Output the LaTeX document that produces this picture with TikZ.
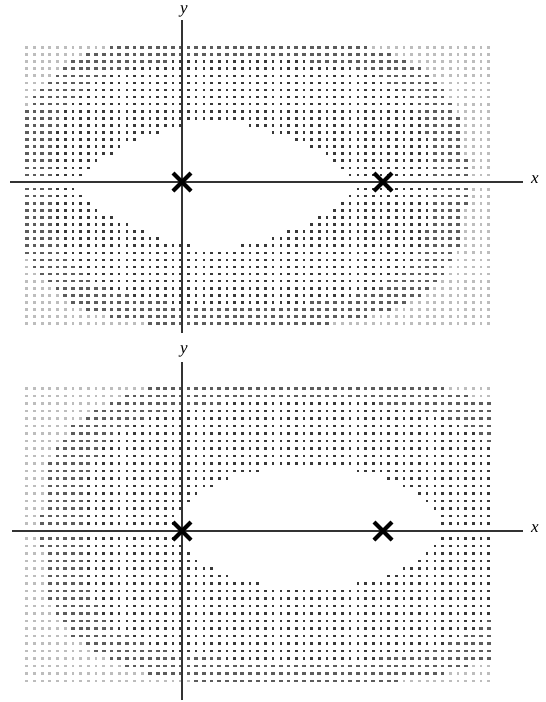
\documentclass[tikz,border=0pt]{standalone}
\usepackage{fontspec}
\setmainfont{Liberation Serif}
\usetikzlibrary{shapes.misc}
\begin{document}
\begin{tikzpicture}[x=1pt,y=-1pt,
  axisline/.style={draw=black!80, line width=1.4pt},
  pole/.style={draw=black, cross out, line width=4pt, minimum size=14pt, inner sep=0pt},
  axlabel/.style={font=\fontsize{17}{17}\selectfont\itshape, inner sep=0pt}]
\useasboundingbox (0,0) rectangle (546,702);
\definecolor{lightdot}{gray}{0.74}
\definecolor{darkdot}{gray}{0.22}
\definecolor{smeardot}{gray}{0.36}
% ---------- top panel dots ----------
\foreach \i in {0,...,60}{
 \foreach \j in {0,...,39}{
   \pgfmathsetmacro\pX{26.7+7.7*\i}
   \pgfmathsetmacro\pY{47.5+7.08*\j}
   \pgfmathsetmacro\pu{abs(\pX-241)/225}
   \pgfmathsetmacro\pv{abs(\pY-182)/145}
   \pgfmathsetmacro\fout{\pu*\pu*\pu+\pv*\pv*\pv}
   \pgfmathsetmacro\qa{abs(\pX-216)/138}
   \pgfmathsetmacro\qb{abs(\pY-185)/64}
   \pgfmathsetmacro\finn{\qa*sqrt(\qa)+\qb*sqrt(\qb)}
   \pgfmathtruncatemacro\cls{\fout>1 ? 1 : (\finn<1 ? 0 : (\fout>0.6 ? 2 : 3))}
   \ifcase\cls
   \or \fill[lightdot] (\pX-1.4,\pY-1.4) rectangle ++(2.8,2.8);
   \or \fill[smeardot] (\pX-1.9,\pY-1.3) rectangle ++(3.8,2.6);
   \or \fill[darkdot] (\pX-1.3,\pY-1.3) rectangle ++(2.6,2.6);
   \fi
 }}
% ---------- bottom panel dots ----------
\foreach \i in {0,...,60}{
 \foreach \j in {0,...,39}{
   \pgfmathsetmacro\pX{26.7+7.7*\i}
   \pgfmathsetmacro\pY{388.5+7.5*\j}
   \pgfmathsetmacro\pu{abs(\pX-298)/256}
   \pgfmathsetmacro\pv{abs(\pY-531)/153.5}
   \pgfmathsetmacro\fout{\pu*\pu*\pu+\pv*\pv*\pv}
   \pgfmathsetmacro\qa{abs(\pX-308)/131}
   \pgfmathsetmacro\qb{abs(\pY-527.25)/60}
   \pgfmathsetmacro\finn{\qa*\qa+\qb*\qb}
   \pgfmathtruncatemacro\cls{\fout>1 ? 1 : (\finn<1 ? 0 : (\fout>0.6 ? 2 : 3))}
   \ifcase\cls
   \or \fill[lightdot] (\pX-1.4,\pY-1.4) rectangle ++(2.8,2.8);
   \or \fill[smeardot] (\pX-1.9,\pY-1.3) rectangle ++(3.8,2.6);
   \or \fill[darkdot] (\pX-1.3,\pY-1.3) rectangle ++(2.6,2.6);
   \fi
 }}
% ---------- top axes ----------
\coordinate (txl) at (10,182);
\coordinate (txr) at (523,182);
\coordinate (tyb) at (182,333);
\coordinate (tyt) at (182,20);
\draw[axisline] (txl) -- (txr);
\draw[axisline] (tyb) -- (tyt);
\node[axlabel] (tylab) at (184,11) {y};
\node[axlabel] (txlab) at (535,180) {x};
\node[pole] (tp0) at (182,182) {};
\node[pole] (tp1) at (383,182) {};
% ---------- bottom axes ----------
\coordinate (bxl) at (12,531);
\coordinate (bxr) at (523,531);
\coordinate (byb) at (182,700);
\coordinate (byt) at (182,362);
\draw[axisline] (bxl) -- (bxr);
\draw[axisline] (byb) -- (byt);
\node[axlabel] (bylab) at (184,351) {y};
\node[axlabel] (bxlab) at (535,529) {x};
\node[pole] (bp0) at (182,531) {};
\node[pole] (bp1) at (383,531) {};
\end{tikzpicture}
\end{document}
